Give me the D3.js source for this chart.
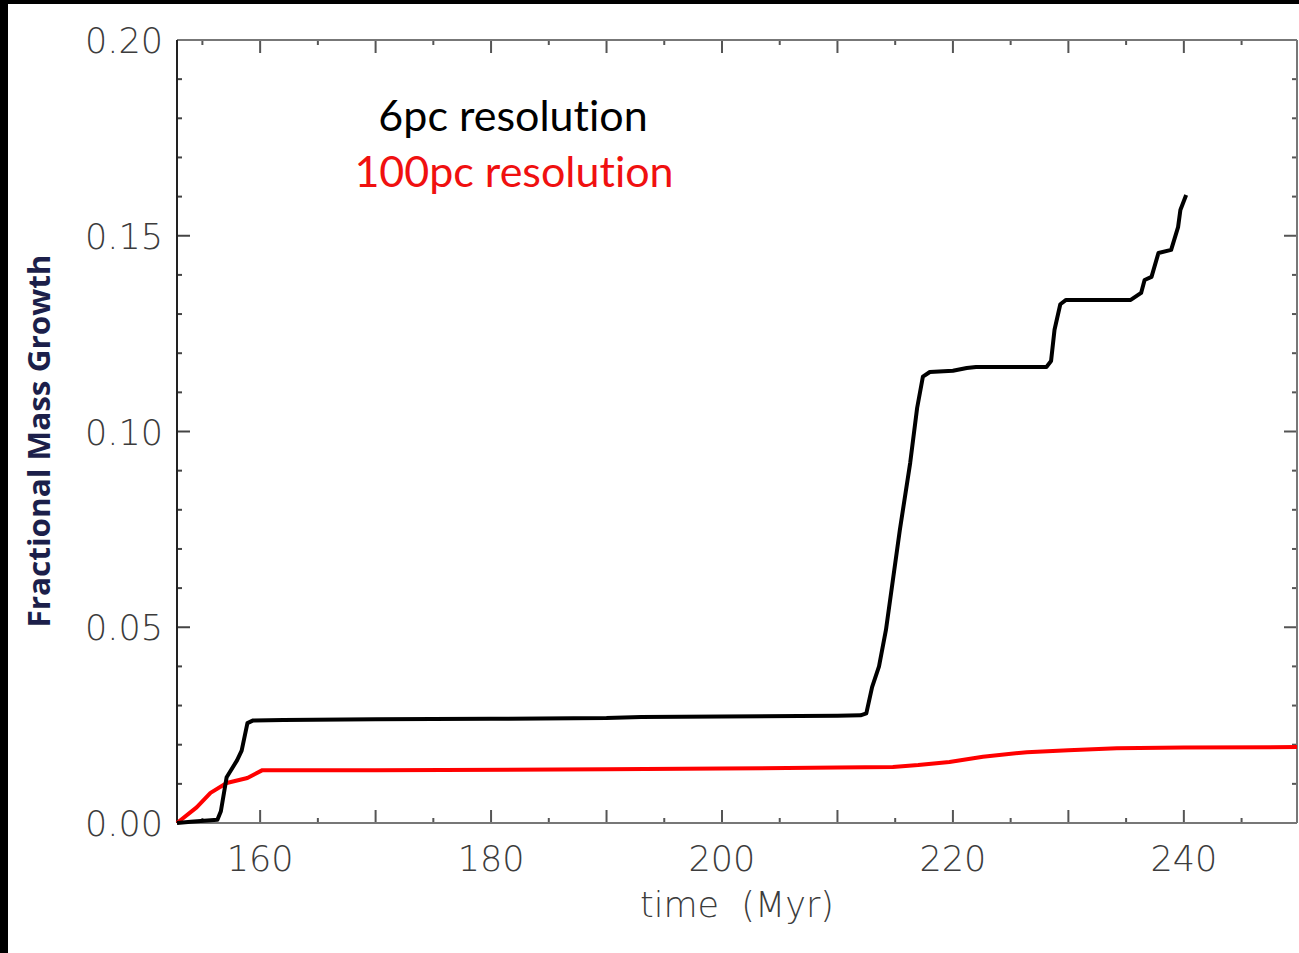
<!DOCTYPE html>
<html>
<head>
<meta charset="utf-8"/>
<title>Fractional Mass Growth</title>
<script src="https://d3js.org/d3.v7.min.js"></script>
<style>
    body { margin: 0; padding: 0; background: #000; width: 1299px; height: 953px; overflow: hidden; }
    svg { display: block; }
    .tick-label { font-family: 'DejaVu Sans', sans-serif; font-weight: 200; font-size: 35px; fill: #3c3c3c; }
    .legend { font-family: Lato, sans-serif; font-size: 43px; font-variant-ligatures: none; }
</style>
</head>
<body>
<div id="chart"></div>
<script>
// 6pc resolution run (time in Myr, fractional growth)
const time6pc = [152.8, 154, 156.3, 156.6, 157.1, 158.0, 158.4, 158.9, 159.4, 162, 170, 180, 190, 193, 200, 210, 212.0, 212.5,
    213.0, 213.6, 214.2, 215.4, 216.3, 216.9, 217.4, 218.0, 220, 221.2, 222, 228.1, 228.5, 228.8, 229.3, 229.8,
    235.4, 236.3, 236.6, 237.2, 237.8, 238.9, 239.5, 239.7, 240.2];
const growth6pc = [0, 0.0003, 0.0008, 0.003, 0.0117, 0.0160, 0.0185, 0.0255, 0.0262, 0.0263, 0.0265, 0.0266, 0.0268, 0.0271, 0.0272, 0.0274, 0.0275, 0.0280,
    0.0347, 0.0400, 0.0493, 0.0748, 0.0920, 0.1060, 0.1140, 0.1152, 0.1155, 0.1162, 0.1165, 0.1165, 0.1180, 0.1260, 0.1325, 0.1336,
    0.1336, 0.1354, 0.1387, 0.1395, 0.1456, 0.1464, 0.1522, 0.1566, 0.1604];

// 100pc resolution run
const time100pc = [152.8, 154.5, 155.7, 157.1, 158.9, 160.2, 170, 190, 200, 210, 214.8, 217, 219.7, 222.6, 226.4, 230, 234.2, 240, 249.8];
const growth100pc = [0, 0.004, 0.0077, 0.0102, 0.0115, 0.0135, 0.0135, 0.0137, 0.0139, 0.0142, 0.0143, 0.0148, 0.0156, 0.0169, 0.0181, 0.0186, 0.0191, 0.0193, 0.0194];

const xTickLabels = [160, 180, 200, 220, 240];
const yTickLabels = [0.00, 0.05, 0.10, 0.15, 0.20];

const W = 1299, H = 953;
const plotLeft = 177, plotRight = 1297, plotTop = 40, plotBottom = 823;

const svg = d3.select("#chart").append("svg")
    .attr("width", W)
    .attr("height", H);

// white page with black strips on top/left
svg.append("rect").attr("width", W).attr("height", H).attr("fill", "#000");
svg.append("rect").attr("x", 8).attr("y", 4).attr("width", W - 8).attr("height", H - 4).attr("fill", "#fff");

const x = d3.scaleLinear().domain([152.8, 249.8]).range([plotLeft, plotRight]);
const y = d3.scaleLinear().domain([0, 0.2]).range([plotBottom, plotTop]);

// ticks every 5 on x (longer every 10), every 0.01 on y (longer every 0.05)
const xMinor = d3.range(155, 250, 5);
const yMinor = d3.range(1, 20).map(i => i / 100);

const tickG = svg.append("g");
xMinor.forEach(t => {
    const len = t % 10 === 0 ? 13 : 5;
    tickG.append("line").attr("x1", x(t)).attr("x2", x(t)).attr("y1", plotBottom).attr("y2", plotBottom - len)
        .attr("stroke", "#555").attr("stroke-width", 2);
    tickG.append("line").attr("x1", x(t)).attr("x2", x(t)).attr("y1", plotTop).attr("y2", plotTop + len)
        .attr("stroke", "#555").attr("stroke-width", 2);
});
yMinor.forEach(v => {
    const len = Math.round(v * 100) % 5 === 0 ? 13 : 5;
    tickG.append("line").attr("x1", plotLeft).attr("x2", plotLeft + len).attr("y1", y(v)).attr("y2", y(v))
        .attr("stroke", "#444").attr("stroke-width", 2);
    tickG.append("line").attr("x1", plotRight).attr("x2", plotRight - len).attr("y1", y(v)).attr("y2", y(v))
        .attr("stroke", "#555").attr("stroke-width", 2);
});

// frame
svg.append("line").attr("x1", plotLeft).attr("x2", plotRight).attr("y1", plotTop).attr("y2", plotTop).attr("stroke", "#777").attr("stroke-width", 2);
svg.append("line").attr("x1", plotLeft).attr("x2", plotRight).attr("y1", plotBottom).attr("y2", plotBottom).attr("stroke", "#777").attr("stroke-width", 2);
svg.append("line").attr("x1", plotRight).attr("x2", plotRight).attr("y1", plotTop).attr("y2", plotBottom).attr("stroke", "#777").attr("stroke-width", 2);
svg.append("line").attr("x1", plotLeft).attr("x2", plotLeft).attr("y1", plotTop).attr("y2", plotBottom).attr("stroke", "#222").attr("stroke-width", 2);

// tick labels
svg.selectAll(".xlab").data(xTickLabels).enter().append("text")
    .attr("class", "tick-label")
    .attr("x", d => x(d))
    .attr("y", 871)
    .attr("text-anchor", "middle")
    .text(d => d);

svg.selectAll(".ylab").data(yTickLabels).enter().append("text")
    .attr("class", "tick-label")
    .attr("x", 163)
    .attr("y", d => y(d) + 13)
    .attr("text-anchor", "end")
    .text(d => d.toFixed(2));

// axis titles
svg.append("text")
    .attr("class", "tick-label")
    .attr("x", 737)
    .attr("y", 917)
    .attr("text-anchor", "middle")
    .style("white-space", "pre")
    .text("time  (Myr)");

svg.append("text")
    .attr("transform", "translate(50,441) rotate(-90)")
    .attr("text-anchor", "middle")
    .attr("fill", "#1c1f4a")
    .attr("font-family", "'Open Sans', sans-serif")
    .attr("font-weight", "bold")
    .attr("font-size", 30)
    .attr("textLength", 373)
    .attr("lengthAdjust", "spacingAndGlyphs")
    .text("Fractional Mass Growth");

// lines
const line = d3.line().x(d => x(d[0])).y(d => y(d[1]));

svg.append("path")
    .datum(time100pc.map((t, i) => [t, growth100pc[i]]))
    .attr("fill", "none")
    .attr("stroke", "#ff0000")
    .attr("stroke-width", 4)
    .attr("stroke-linejoin", "round")
    .attr("d", line);

svg.append("path")
    .datum(time6pc.map((t, i) => [t, growth6pc[i]]))
    .attr("fill", "none")
    .attr("stroke", "#000")
    .attr("stroke-width", 4)
    .attr("stroke-linejoin", "round")
    .attr("d", line);

// legend
svg.append("text")
    .attr("class", "legend")
    .attr("x", 513).attr("y", 131)
    .attr("text-anchor", "middle")
    .attr("fill", "#000")
    .text("6pc resolution");

svg.append("text")
    .attr("class", "legend")
    .attr("x", 514).attr("y", 187)
    .attr("text-anchor", "middle")
    .attr("fill", "#f01010")
    .text("100pc resolution");
</script>
</body>
</html>
